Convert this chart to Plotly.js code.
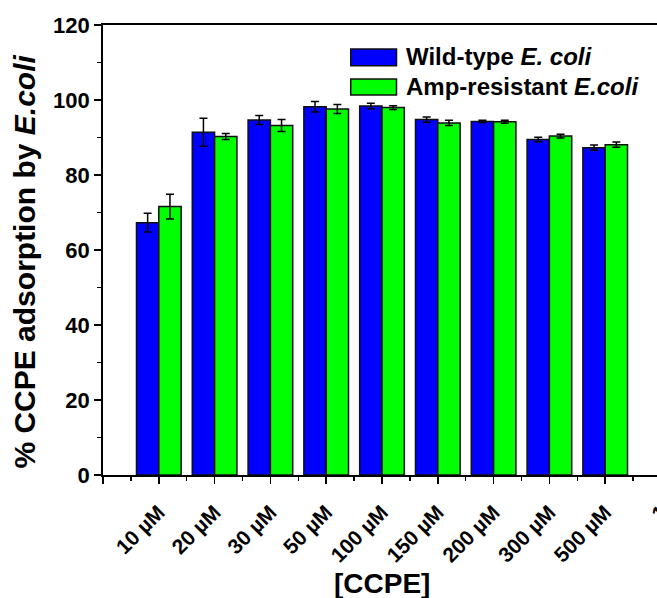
<!DOCTYPE html>
<html>
<head>
<meta charset="utf-8">
<script src="https://cdn.plot.ly/plotly-3.0.1.min.js"></script>
<style>
html, body { margin: 0; padding: 0; overflow: hidden; background: #fff; }
#chart { width: 700px; height: 598px; }
</style>
</head>
<body>
<div id="chart"></div>
<script>
// ---- data ----
// the last tick label is cut by the right edge in the reference; only a "1" shows
const tickLabels = ['10 µM', '20 µM', '30 µM', '50 µM', '100 µM', '150 µM', '200 µM', '300 µM', '500 µM', '1'];
const concentrations = ['10 µM', '20 µM', '30 µM', '50 µM', '100 µM', '150 µM', '200 µM', '300 µM', '500 µM'];
const wildType = [67.3, 91.4, 94.7, 98.2, 98.4, 94.8, 94.3, 89.5, 87.3];
const wildTypeErr = [2.5, 3.7, 1.2, 1.4, 0.7, 0.7, 0.3, 0.6, 0.7];
const ampResistant = [71.6, 90.3, 93.2, 97.6, 98.0, 93.9, 94.2, 90.4, 88.1];
const ampResistantErr = [3.3, 0.8, 1.6, 1.2, 0.5, 0.7, 0.4, 0.5, 0.7];
const seriesNames = ['Wild-type <i>E. coli</i>', 'Amp-resistant <i>E.coli</i>'];

// category positions on a numeric axis (1..n)
const xPos = concentrations.map((c, i) => i + 1);
const tickVals = [0].concat(tickLabels.map((c, i) => i + 1));
const tickText = [''].concat(tickLabels);

const FONT = 'Arial, "Liberation Sans", sans-serif';

const traces = [
  {
    type: 'bar', name: seriesNames[0], x: xPos, y: wildType,
    marker: { color: '#0000FF', line: { color: '#101010', width: 1.5 } },
    error_y: { type: 'data', array: wildTypeErr, visible: true, color: '#000', thickness: 1.5, width: 4 },
    hoverinfo: 'y'
  },
  {
    type: 'bar', name: seriesNames[1], x: xPos, y: ampResistant,
    marker: { color: '#00FF00', line: { color: '#101010', width: 1.5 } },
    error_y: { type: 'data', array: ampResistantErr, visible: true, color: '#000', thickness: 1.5, width: 4 },
    hoverinfo: 'y'
  }
];

const lx0 = 0.444, lx1 = 0.526, ltx = 0.539;
const layout = {
  width: 700, height: 598,
  margin: { l: 103, r: 39, t: 25, b: 123 },
  paper_bgcolor: '#fff', plot_bgcolor: '#fff',
  showlegend: false,
  barmode: 'group', bargap: 0.2, bargroupgap: 0,
  font: { family: FONT, color: '#000' },
  xaxis: {
    range: [0, 10], tickmode: 'array', tickvals: tickVals, ticktext: tickText,
    tickangle: -45, ticks: 'outside', ticklen: 7, tickwidth: 1.5, tickcolor: '#000',
    ticklabelstandoff: 8, ticklabeloverflow: 'allow',
    tickfont: { family: FONT, size: 21, weight: 'bold', color: '#000' },
    showline: true, linecolor: '#000', linewidth: 1.8, mirror: true,
    showgrid: false, zeroline: false,
    minor: { tickmode: 'linear', tick0: 0.5, dtick: 1, ticks: 'outside', ticklen: 4, tickwidth: 1.5, tickcolor: '#000', showgrid: false }
  },
  yaxis: {
    range: [0, 120], tickmode: 'linear', tick0: 0, dtick: 20,
    ticks: 'outside', ticklen: 7, tickwidth: 1.5, tickcolor: '#000',
    tickfont: { family: FONT, size: 22, weight: 'bold', color: '#000' },
    showline: true, linecolor: '#000', linewidth: 1.8, mirror: true,
    showgrid: false, zeroline: false,
    minor: { tickmode: 'linear', tick0: 0, dtick: 10, ticks: 'outside', ticklen: 4, tickwidth: 1.5, tickcolor: '#000', showgrid: false }
  },
  shapes: [
    { type: 'rect', xref: 'paper', yref: 'paper', x0: lx0, x1: lx1, y0: 0.9097, y1: 0.9467,
      fillcolor: '#0000FF', line: { color: '#101010', width: 1.5 } },
    { type: 'rect', xref: 'paper', yref: 'paper', x0: lx0, x1: lx1, y0: 0.8446, y1: 0.8801,
      fillcolor: '#00FF00', line: { color: '#101010', width: 1.5 } }
  ],
  annotations: [
    { xref: 'paper', yref: 'paper', x: ltx, y: 0.929, xanchor: 'left', yanchor: 'middle', showarrow: false,
      text: '<b>' + seriesNames[0] + '</b>', font: { family: FONT, size: 24, color: '#000' } },
    { xref: 'paper', yref: 'paper', x: ltx, y: 0.8623, xanchor: 'left', yanchor: 'middle', showarrow: false,
      text: '<b>' + seriesNames[1] + '</b>', font: { family: FONT, size: 24, color: '#000' } },
    { xref: 'paper', yref: 'paper', x: -0.14, y: 0.474, xanchor: 'center', yanchor: 'middle', showarrow: false,
      textangle: -90, text: '<b>% CCPE adsorption by <i>E.coli</i></b>', font: { family: FONT, size: 30, color: '#000' } },
    { xref: 'paper', yref: 'paper', x: 0.5, y: -0.24, xanchor: 'center', yanchor: 'middle', showarrow: false,
      text: '<b>[CCPE]</b>', font: { family: FONT, size: 28, color: '#000' } }
  ]
};

Plotly.newPlot('chart', traces, layout, { displayModeBar: false, staticPlot: true });
</script>
</body>
</html>
